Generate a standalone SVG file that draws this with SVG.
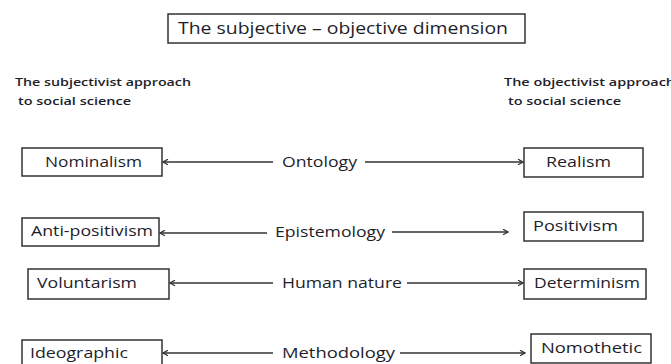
<svg xmlns="http://www.w3.org/2000/svg" width="671" height="364" viewBox="0 0 671 364">
<style>
.box{fill:#fff;stroke:#333;stroke-width:1.5}
.t{font-family:"Open Sans","Liberation Sans",sans-serif;font-size:14.5px;fill:#1e1e2a}
.title{font-family:"Open Sans","Liberation Sans",sans-serif;font-size:16px;fill:#1e1e2a}
.sub{font-family:"Open Sans","Liberation Sans",sans-serif;font-size:11px;font-weight:600;fill:#1e1e2a}
.ln{stroke:#333;stroke-width:1.5;fill:none;marker-end:url(#ah)}
</style>
<defs>
<marker id="ah" viewBox="0 0 8 8" refX="7.2" refY="4" markerWidth="7" markerHeight="7" orient="auto" markerUnits="userSpaceOnUse">
<path d="M1.5,0.8 L7.2,4 L1.5,7.2" fill="none" stroke="#333" stroke-width="1.4"/>
</marker>
</defs>
<rect width="671" height="364" fill="#fff"/>
<g id="title">
<rect class="box" x="168" y="14" width="357" height="29"/>
<text class="title" x="178" y="34" textLength="330" lengthAdjust="spacingAndGlyphs">The subjective – objective dimension</text>
</g>
<g id="subjectivist">
<text class="sub" x="15" y="86" textLength="176" lengthAdjust="spacingAndGlyphs">The subjectivist approach</text>
<text class="sub" x="18" y="105" textLength="113" lengthAdjust="spacingAndGlyphs">to social science</text>
</g>
<g id="objectivist">
<text class="sub" x="504" y="86" textLength="171" lengthAdjust="spacingAndGlyphs">The objectivist approach</text>
<text class="sub" x="508" y="105" textLength="113" lengthAdjust="spacingAndGlyphs">to social science</text>
</g>
<g id="nominalism">
<rect class="box" x="22" y="148" width="140" height="28"/>
<text class="t" x="45" y="167" textLength="97" lengthAdjust="spacingAndGlyphs">Nominalism</text>
</g>
<g id="realism">
<rect class="box" x="524" y="148" width="119" height="29"/>
<text class="t" x="546" y="167" textLength="65" lengthAdjust="spacingAndGlyphs">Realism</text>
</g>
<g id="antipositivism">
<rect class="box" x="22" y="218" width="137" height="28"/>
<text class="t" x="31" y="236" textLength="122" lengthAdjust="spacingAndGlyphs">Anti-positivism</text>
</g>
<g id="positivism">
<rect class="box" x="524" y="212" width="119" height="29"/>
<text class="t" x="533" y="231" textLength="85" lengthAdjust="spacingAndGlyphs">Positivism</text>
</g>
<g id="voluntarism">
<rect class="box" x="28" y="269" width="141" height="30"/>
<text class="t" x="37" y="288" textLength="100" lengthAdjust="spacingAndGlyphs">Voluntarism</text>
</g>
<g id="determinism">
<rect class="box" x="524" y="269" width="122" height="30"/>
<text class="t" x="534" y="288" textLength="106" lengthAdjust="spacingAndGlyphs">Determinism</text>
</g>
<g id="ideographic">
<rect class="box" x="22" y="340" width="140" height="28"/>
<text class="t" x="30" y="358" textLength="98" lengthAdjust="spacingAndGlyphs">Ideographic</text>
</g>
<g id="nomothetic">
<rect class="box" x="531" y="334" width="120" height="29"/>
<text class="t" x="541" y="353" textLength="101" lengthAdjust="spacingAndGlyphs">Nomothetic</text>
</g>
<g id="connectors">
<line class="ln" x1="273" y1="162" x2="163" y2="162"/>
<text class="t" x="282" y="167" textLength="75" lengthAdjust="spacingAndGlyphs">Ontology</text>
<line class="ln" x1="365" y1="162" x2="523" y2="162"/>
<line class="ln" x1="267" y1="233" x2="160" y2="233"/>
<text class="t" x="275" y="237" textLength="110" lengthAdjust="spacingAndGlyphs">Epistemology</text>
<line class="ln" x1="392" y1="232" x2="508" y2="232"/>
<line class="ln" x1="273" y1="283" x2="170" y2="283"/>
<text class="t" x="282" y="288" textLength="120" lengthAdjust="spacingAndGlyphs">Human nature</text>
<line class="ln" x1="407" y1="283" x2="523" y2="283"/>
<line class="ln" x1="273" y1="353" x2="163" y2="353"/>
<text class="t" x="282" y="358" textLength="113" lengthAdjust="spacingAndGlyphs">Methodology</text>
<line class="ln" x1="400" y1="353" x2="525" y2="353"/>
</g>
</svg>
